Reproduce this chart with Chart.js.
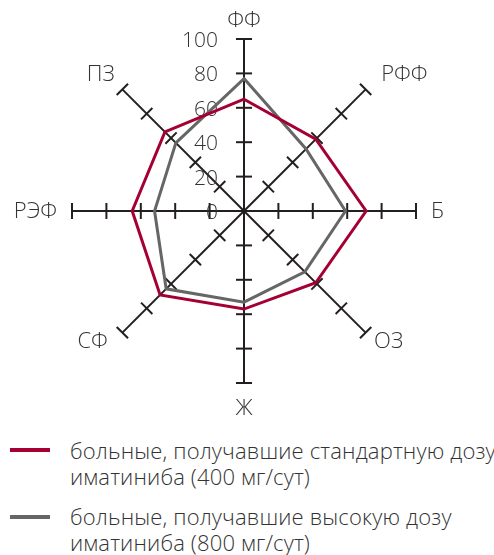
<!DOCTYPE html>
<html lang="ru">
<head>
<meta charset="utf-8">
<title>Радар</title>
<script src="https://cdn.jsdelivr.net/npm/chart.js@4.4.1/dist/chart.umd.min.js"></script>
<style>
    body { margin: 0; background: #fff; font-family: "Open Sans", sans-serif; font-weight: 300; color: #333; }
    #wrap { position: relative; width: 494px; height: 555px; }
    canvas { position: absolute; left: 0; top: 0; }
    .item { position: absolute; left: 70px; font-size: 22px; line-height: 26px; letter-spacing: 0.15px; white-space: nowrap; }
    .mark { position: absolute; left: 10px; width: 40px; height: 4px; }
</style>
</head>
<body>
<div id="wrap">
    <canvas id="radar" width="494" height="420"></canvas>
    <div class="mark" id="mark0" style="top:448px"></div>
    <div class="item" id="item0" style="top:437px"></div>
    <div class="mark" id="mark1" style="top:515px"></div>
    <div class="item" id="item1" style="top:503px"></div>
</div>
<script>
// ===== ДАННЫЕ =====
const categorias = ["ФФ", "РФФ", "Б", "ОЗ", "Ж", "СФ", "РЭФ", "ПЗ"];
const doseStandard = [65, 59, 71, 59, 57, 69, 65, 65];
const doseHigh = [77, 51, 59, 50, 53, 64, 52, 56];
const tickValues = [0, 20, 40, 60, 80, 100];
const legendTexts = [
    ["больные, получавшие стандартную дозу", "иматиниба (400 мг/сут)"],
    ["больные, получавшие высокую дозу", "иматиниба (800 мг/сут)"]
];

const RED = "#a50034";
const GRAY = "#666666";
const AXIS = "#231f20";
const TEXT = "#333333";
const TICK_FONT = '300 21px "Open Sans", sans-serif';
const LABEL_FONT = '300 22px "Open Sans", sans-serif';

// ===== LEGEND (HTML) =====
[RED, GRAY].forEach((cor, i) => {
    document.getElementById("mark" + i).style.background = cor;
    document.getElementById("item" + i).innerHTML = legendTexts[i].join("<br>");
});

// ===== eixos com marcas + rótulos =====
const axesPlugin = {
    id: "axesPlugin",
    beforeDatasetsDraw(chart) {
        const scale = chart.scales.r;
        const ctx = chart.ctx;
        ctx.save();
        ctx.strokeStyle = AXIS;
        ctx.lineWidth = 2;
        categorias.forEach((_, i) => {
            const a = scale.getIndexAngle(i) - Math.PI / 2;
            const px = -Math.sin(a), py = Math.cos(a);
            tickValues.forEach(v => {
                if (v === 0) return;
                const p = scale.getPointPosition(i, scale.getDistanceFromCenterForValue(v));
                ctx.beginPath();
                ctx.moveTo(p.x - 8 * px, p.y - 8 * py);
                ctx.lineTo(p.x + 8 * px, p.y + 8 * py);
                ctx.stroke();
            });
        });

        // tick labels
        ctx.font = TICK_FONT;
        ctx.fillStyle = TEXT;
        ctx.textAlign = "right";
        ctx.textBaseline = "middle";
        tickValues.forEach(v => {
            const d = scale.getDistanceFromCenterForValue(v);
            ctx.fillText(String(v), scale.xCenter - 26, scale.yCenter - d + 2);
        });

        // point labels
        ctx.font = LABEL_FONT;
        categorias.forEach((lab, i) => {
            const ang = scale.getIndexAngle(i) * 180 / Math.PI;
            let extra = 20;
            let nudge = 0;
            if (ang === 0) extra = 19;
            else if (ang === 180) extra = 25;
            else if (ang === 90 || ang === 270) extra = 15;
            else if (ang > 90 && ang < 270) extra = 12;
            else extra = 22;
            if (Math.round(ang) === 315) nudge = 8;
            if (Math.round(ang) === 225) nudge = -6;
            const p = scale.getPointPosition(i, scale.drawingArea + extra);
            if (ang === 0 || ang === 180) ctx.textAlign = "center";
            else if (ang < 180) ctx.textAlign = "left";
            else ctx.textAlign = "right";
            ctx.fillText(lab, p.x + nudge, p.y + 1);
        });
        ctx.restore();
    }
};

document.addEventListener("DOMContentLoaded", () => {
    const canvas = document.getElementById("radar");

    new Chart(canvas, {
        type: "radar",
        data: {
            labels: categorias,
            datasets: [
                {
                    label: legendTexts[0].join(" "),
                    data: doseStandard,
                    borderColor: RED,
                    borderWidth: 3,
                    fill: false,
                    pointRadius: 0,
                    tension: 0
                },
                {
                    label: legendTexts[1].join(" "),
                    data: doseHigh,
                    borderColor: GRAY,
                    borderWidth: 3,
                    fill: false,
                    pointRadius: 0,
                    tension: 0
                }
            ]
        },
        options: {
            responsive: false,
            animation: false,
            layout: {
                padding: { left: 72, right: 78, top: 39, bottom: 37 }
            },
            plugins: {
                legend: { display: false },
                tooltip: { enabled: false }
            },
            scales: {
                r: {
                    min: 0,
                    max: 100,
                    ticks: { display: false, stepSize: 20 },
                    grid: { display: false },
                    angleLines: { display: true, color: AXIS, lineWidth: 2 },
                    pointLabels: { display: false }
                }
            }
        },
        plugins: [axesPlugin]
    });
});
</script>
</body>
</html>
